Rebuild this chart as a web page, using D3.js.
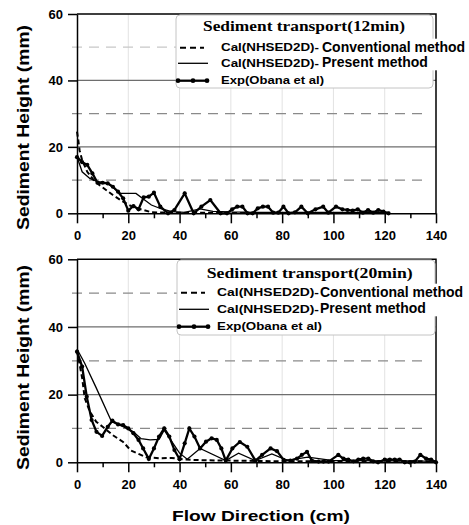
<!DOCTYPE html>
<html>
<head>
<meta charset="utf-8">
<script src="https://cdn.jsdelivr.net/npm/d3@7/dist/d3.min.js"></script>
<style>
  body { margin: 0; background: #fff; }
  svg { display: block; }
</style>
</head>
<body>
<svg id="chart" width="469" height="525"></svg>
<script>
// Sediment height profiles (x in cm, height in mm)
const xTicks = [0, 20, 40, 60, 80, 100, 120, 140];
const yTicks = [0, 20, 40, 60];

const legendLabels = ['Cal(NHSED2D)-', 'Cal(NHSED2D)-', 'Exp(Obana et al)'];
const legendExtra = ['Conventional method', 'Present method', ''];

// 12 min
const exp12X = [0, 2, 4, 6, 8, 10, 12, 14, 16, 18, 20, 22, 24, 26, 28, 30, 32.5, 35.5, 38, 42, 45.5, 48.5, 52, 56, 58.5,
  60.5, 62.5, 64.5, 66.5, 68.5, 70.5, 72.5, 74.5, 76.5, 78.5, 80.5, 82.5, 85, 87.5, 90, 93, 96, 98,
  101, 103.5, 105.5, 107.5, 109.5, 111.5, 113.5, 115.5, 117.5, 119.5, 121.5];
const exp12H = [16.9, 15.4, 14.6, 12, 9.2, 9.2, 9, 8, 6.5, 4.5, 0.8, 2.2, 1.2, 4.8, 5, 6.2, 2, 0, 1, 6, 0, 2, 4, 0, 0,
  1.2, 2, 2, 0, 0, 1.5, 2, 2, 0.2, 0.2, 2, 0, 0.3, 2, 0, 1.2, 2, 0.2,
  2, 1.2, 1, 0.8, 1.2, 0.2, 1, 0.2, 1, 0.5, 0];
const pres12X = [0, 2, 5, 8, 12, 17, 23, 26, 29, 33, 37, 42, 48, 53, 60, 70, 80, 90, 100, 110, 122];
const pres12H = [17, 12.5, 10.5, 9.5, 9, 6, 6, 4.2, 2.5, 1.3, 0.5, 0.3, 1.3, 0.6, 0.4, 0.3, 0.3, 0.3, 0.3, 0.3, 0.3];
const conv12X = [0, 0.5, 1, 2, 4, 7, 10, 14, 18, 22, 26, 29, 35, 45, 60, 80, 100, 120];
const conv12H = [24.6, 22, 19, 16, 12.5, 9.5, 7.8, 5.5, 3.5, 1.8, 1, 0.3, 0.2, 0.2, 0.1, 0.1, 0.1, 0.1];

// 20 min
const exp20X = [0, 2, 3.8, 5.7, 7.6, 9.8, 12, 13.8, 16, 18, 20, 22, 24, 25.8, 28, 30, 32, 34, 36, 38,
  40, 42, 43.8, 45.8, 48, 50.3, 52.5, 54.5, 56.3, 58, 60.6, 63.5, 66.4, 69.6, 72.2, 75.5, 78, 80.6, 83.2, 85.8,
  87.7, 89.7, 91.6, 94.2, 96.1, 98.1, 101.9, 103.9, 105.8, 107.8, 109.7, 111.6, 113.6, 115.5, 117.4, 120, 122, 123.9, 125.8, 127.8,
  129.7, 131.7, 133.9, 136.1, 138.1, 140];
const exp20H = [32.7, 28.3, 19.4, 12.5, 9, 7.8, 10.5, 12.3, 11.2, 11, 10, 8.6, 6.6, 4.1, 1, 4.1, 7.6, 10, 7.6, 3.6,
  0.9, 5.6, 10, 7.6, 4.1, 6.1, 7.1, 6.6, 4.1, 0.5, 4.1, 6, 4.6, 0.5, 2.2, 4.1, 3.3, 0.7, 0.5, 1.1,
  2.2, 3.1, 0.5, 0.2, 0.2, 0.2, 2.2, 1.1, 0.8, 0.3, 0.8, 1.1, 1.1, 0.3, 0, 0.8, 0.8, 0.8, 0.8, 0,
  0, 0.2, 2.2, 1.1, 0.8, 0];
const pres20X = [0, 3, 7.5, 13.5, 18, 22, 25, 28.5, 32, 34, 40, 43, 48, 58, 63, 69.5, 76, 82, 90, 100, 110, 120, 130, 140];
const pres20H = [33.5, 29.3, 22, 12, 10.5, 9, 7, 6.6, 6.8, 9.5, 2.7, 0.9, 4.1, 0.5, 2.7, 0.5, 2.5, 0.6, 1.5, 0.5, 0.5, 0.4, 0.4, 0.3];
const conv20X = [0, 1, 2, 3, 5, 7.5, 10, 14, 18, 21, 24, 27, 32, 37, 42, 50, 60, 70, 80, 90, 100, 120, 140];
const conv20H = [33, 29, 25, 19, 15, 12, 10.5, 8, 6, 3.5, 2.5, 1.5, 1.2, 1.3, 0.8, 0.6, 0.5, 0.4, 0.3, 0.3, 0.3, 0.3, 0.3];

const FONT = 'Liberation Sans, Arial, sans-serif';
const SERIF = 'Liberation Serif, Times New Roman, serif';

const svg = d3.select('#chart');
const x = d3.scaleLinear().domain([0, 140]).range([77, 436]);

const panels = [
  {
    title: 'Sediment transport(12min)', top: 14, bottom: 213.3,
    exp: [exp12X, exp12H], pres: [pres12X, pres12H], conv: [conv12X, conv12H],
    box: [176, 15, 433, 88], titleX: 304, titleY: 31, titleLen: 202,
    rows: [47.7, 63.3, 80.7], textX: 221, extraX: 322, labLen: [98, 98, 103],
    dash50: '#c8c8c8', ytitleY: 127.5
  },
  {
    title: 'Sediment transport(20min)', top: 259.3, bottom: 462.3,
    exp: [exp20X, exp20H], pres: [pres20X, pres20H], conv: [conv20X, conv20H],
    box: [177, 260, 435, 335], titleX: 309.7, titleY: 277.5, titleLen: 206,
    rows: [292.7, 309.3, 326.7], textX: 217, extraX: 320, labLen: [102, 102, 105],
    dash50: '#8a8a8a', ytitleY: 367.5
  }
];

panels.forEach(p => {
  const y = d3.scaleLinear().domain([0, 60]).range([p.bottom, p.top]);
  const g = svg.append('g');
  const [xl, xr] = x.range();

  // light vertical grid
  g.append('g').selectAll('line')
    .data(xTicks.slice(1, -1))
    .join('line')
    .attr('x1', d => x(d)).attr('x2', d => x(d))
    .attr('y1', p.top).attr('y2', p.bottom)
    .attr('stroke', '#e2e2e2').attr('stroke-width', 1);

  // solid horizontal grid at 20, 40
  g.append('g').selectAll('line')
    .data([20, 40])
    .join('line')
    .attr('x1', xl).attr('x2', xr)
    .attr('y1', d => y(d)).attr('y2', d => y(d))
    .attr('stroke', '#6e6e6e').attr('stroke-width', 1.2);

  // dashed horizontal grid at 10, 30, 50
  g.append('g').selectAll('line')
    .data([10, 30, 50])
    .join('line')
    .attr('x1', xl - 5).attr('x2', xr - 8)
    .attr('y1', d => y(d)).attr('y2', d => y(d))
    .attr('stroke', d => d === 50 ? p.dash50 : '#8a8a8a')
    .attr('stroke-width', 1.2)
    .attr('stroke-dasharray', '10,7');

  const line = d3.line().x(d => x(d[0])).y(d => y(d[1]));
  const pts = s => s[0].map((v, i) => [v, s[1][i]]);

  g.append('path').datum(pts(p.conv))
    .attr('d', line).attr('fill', 'none')
    .attr('stroke', '#000').attr('stroke-width', 2)
    .attr('stroke-dasharray', '5,3');

  g.append('path').datum(pts(p.pres))
    .attr('d', line).attr('fill', 'none')
    .attr('stroke', '#000').attr('stroke-width', 1.3);

  g.append('path').datum(pts(p.exp))
    .attr('d', line).attr('fill', 'none')
    .attr('stroke', '#000').attr('stroke-width', 2.3);

  g.append('g').selectAll('circle')
    .data(pts(p.exp))
    .join('circle')
    .attr('cx', d => x(d[0])).attr('cy', d => y(d[1]))
    .attr('r', 2.1).attr('fill', '#000');

  // frame (top + right)
  g.append('path')
    .attr('d', `M${xl},${p.top}H${xr}V${p.bottom}`)
    .attr('fill', 'none').attr('stroke', '#000').attr('stroke-width', 1.5);

  // axes
  const xAxis = g.append('g')
    .attr('transform', `translate(0,${p.bottom})`)
    .call(d3.axisBottom(x).tickValues(xTicks).tickSize(10).tickSizeOuter(0).tickPadding(7).tickFormat(d3.format('d')));
  g.append('g')
    .attr('transform', `translate(0,${p.bottom})`)
    .call(d3.axisBottom(x).tickValues(d3.range(10, 140, 20)).tickSize(5).tickSizeOuter(0).tickFormat(''))
    .call(a => a.select('.domain').remove())
    .selectAll('line').attr('stroke-width', 1.5);

  const yAxis = g.append('g')
    .attr('transform', `translate(${xl},0)`)
    .call(d3.axisLeft(y).tickValues(yTicks).tickSize(9).tickSizeOuter(0).tickPadding(5).tickFormat(d3.format('d')));

  [xAxis, yAxis].forEach(a => {
    a.attr('font-family', FONT).attr('font-size', 13).attr('font-weight', 'bold');
    a.select('.domain').attr('stroke-width', 1.5);
    a.selectAll('.tick line').attr('stroke-width', 1.5);
    a.selectAll('text').attr('fill', '#000');
  });

  // y title
  svg.append('text')
    .attr('transform', `translate(28.5,${p.ytitleY}) rotate(-90)`)
    .attr('text-anchor', 'middle')
    .attr('font-family', FONT).attr('font-size', 16).attr('font-weight', 'bold')
    .attr('textLength', 205).attr('lengthAdjust', 'spacingAndGlyphs')
    .text('Sediment Height (mm)');

  // legend
  const [bx0, by0, bx1, by1] = p.box;
  const lg = svg.append('g');
  lg.append('rect')
    .attr('x', bx0).attr('y', by0)
    .attr('width', bx1 - bx0).attr('height', by1 - by0)
    .attr('rx', 4)
    .attr('fill', '#fff').attr('stroke', '#c4c4c4').attr('stroke-width', 1);

  // white band behind the overflowing method names
  lg.append('rect')
    .attr('x', p.extraX - 3).attr('y', p.rows[0] - 9)
    .attr('width', 469 - p.extraX + 3).attr('height', p.rows[1] - p.rows[0] + 16)
    .attr('fill', '#fff');

  lg.append('text')
    .attr('x', p.titleX).attr('y', p.titleY)
    .attr('text-anchor', 'middle')
    .attr('font-family', SERIF).attr('font-size', 15).attr('font-weight', 'bold')
    .attr('textLength', p.titleLen).attr('lengthAdjust', 'spacingAndGlyphs')
    .text(p.title);

  lg.append('line')
    .attr('x1', bx0 + 4).attr('x2', bx0 + 28)
    .attr('y1', p.rows[0]).attr('y2', p.rows[0])
    .attr('stroke', '#000').attr('stroke-width', 2).attr('stroke-dasharray', '6,4');
  lg.append('line')
    .attr('x1', bx0 + 2).attr('x2', bx0 + 32)
    .attr('y1', p.rows[1]).attr('y2', p.rows[1])
    .attr('stroke', '#000').attr('stroke-width', 1.3);
  lg.append('line')
    .attr('x1', bx0 + 2).attr('x2', bx0 + 32)
    .attr('y1', p.rows[2]).attr('y2', p.rows[2])
    .attr('stroke', '#000').attr('stroke-width', 2.3);
  lg.selectAll('circle')
    .data([2, 17, 31])
    .join('circle')
    .attr('cx', d => bx0 + d).attr('cy', p.rows[2])
    .attr('r', 2.4).attr('fill', '#000');

  legendLabels.forEach((t, i) => {
    lg.append('text')
      .attr('x', p.textX).attr('y', p.rows[i] + 3.5)
      .attr('font-family', FONT).attr('font-size', 11).attr('font-weight', 'bold')
      .attr('textLength', p.labLen[i]).attr('lengthAdjust', 'spacingAndGlyphs')
      .text(t);
    if (legendExtra[i]) {
      lg.append('text')
        .attr('x', p.extraX).attr('y', p.rows[i] + 4)
        .attr('font-family', FONT).attr('font-size', 14).attr('font-weight', 'bold')
        .text(legendExtra[i]);
    }
  });
});

// x title
svg.append('text')
  .attr('x', 261).attr('y', 520.5)
  .attr('text-anchor', 'middle')
  .attr('font-family', FONT).attr('font-size', 15).attr('font-weight', 'bold')
  .attr('textLength', 178).attr('lengthAdjust', 'spacingAndGlyphs')
  .text('Flow Direction (cm)');
</script>
</body>
</html>
